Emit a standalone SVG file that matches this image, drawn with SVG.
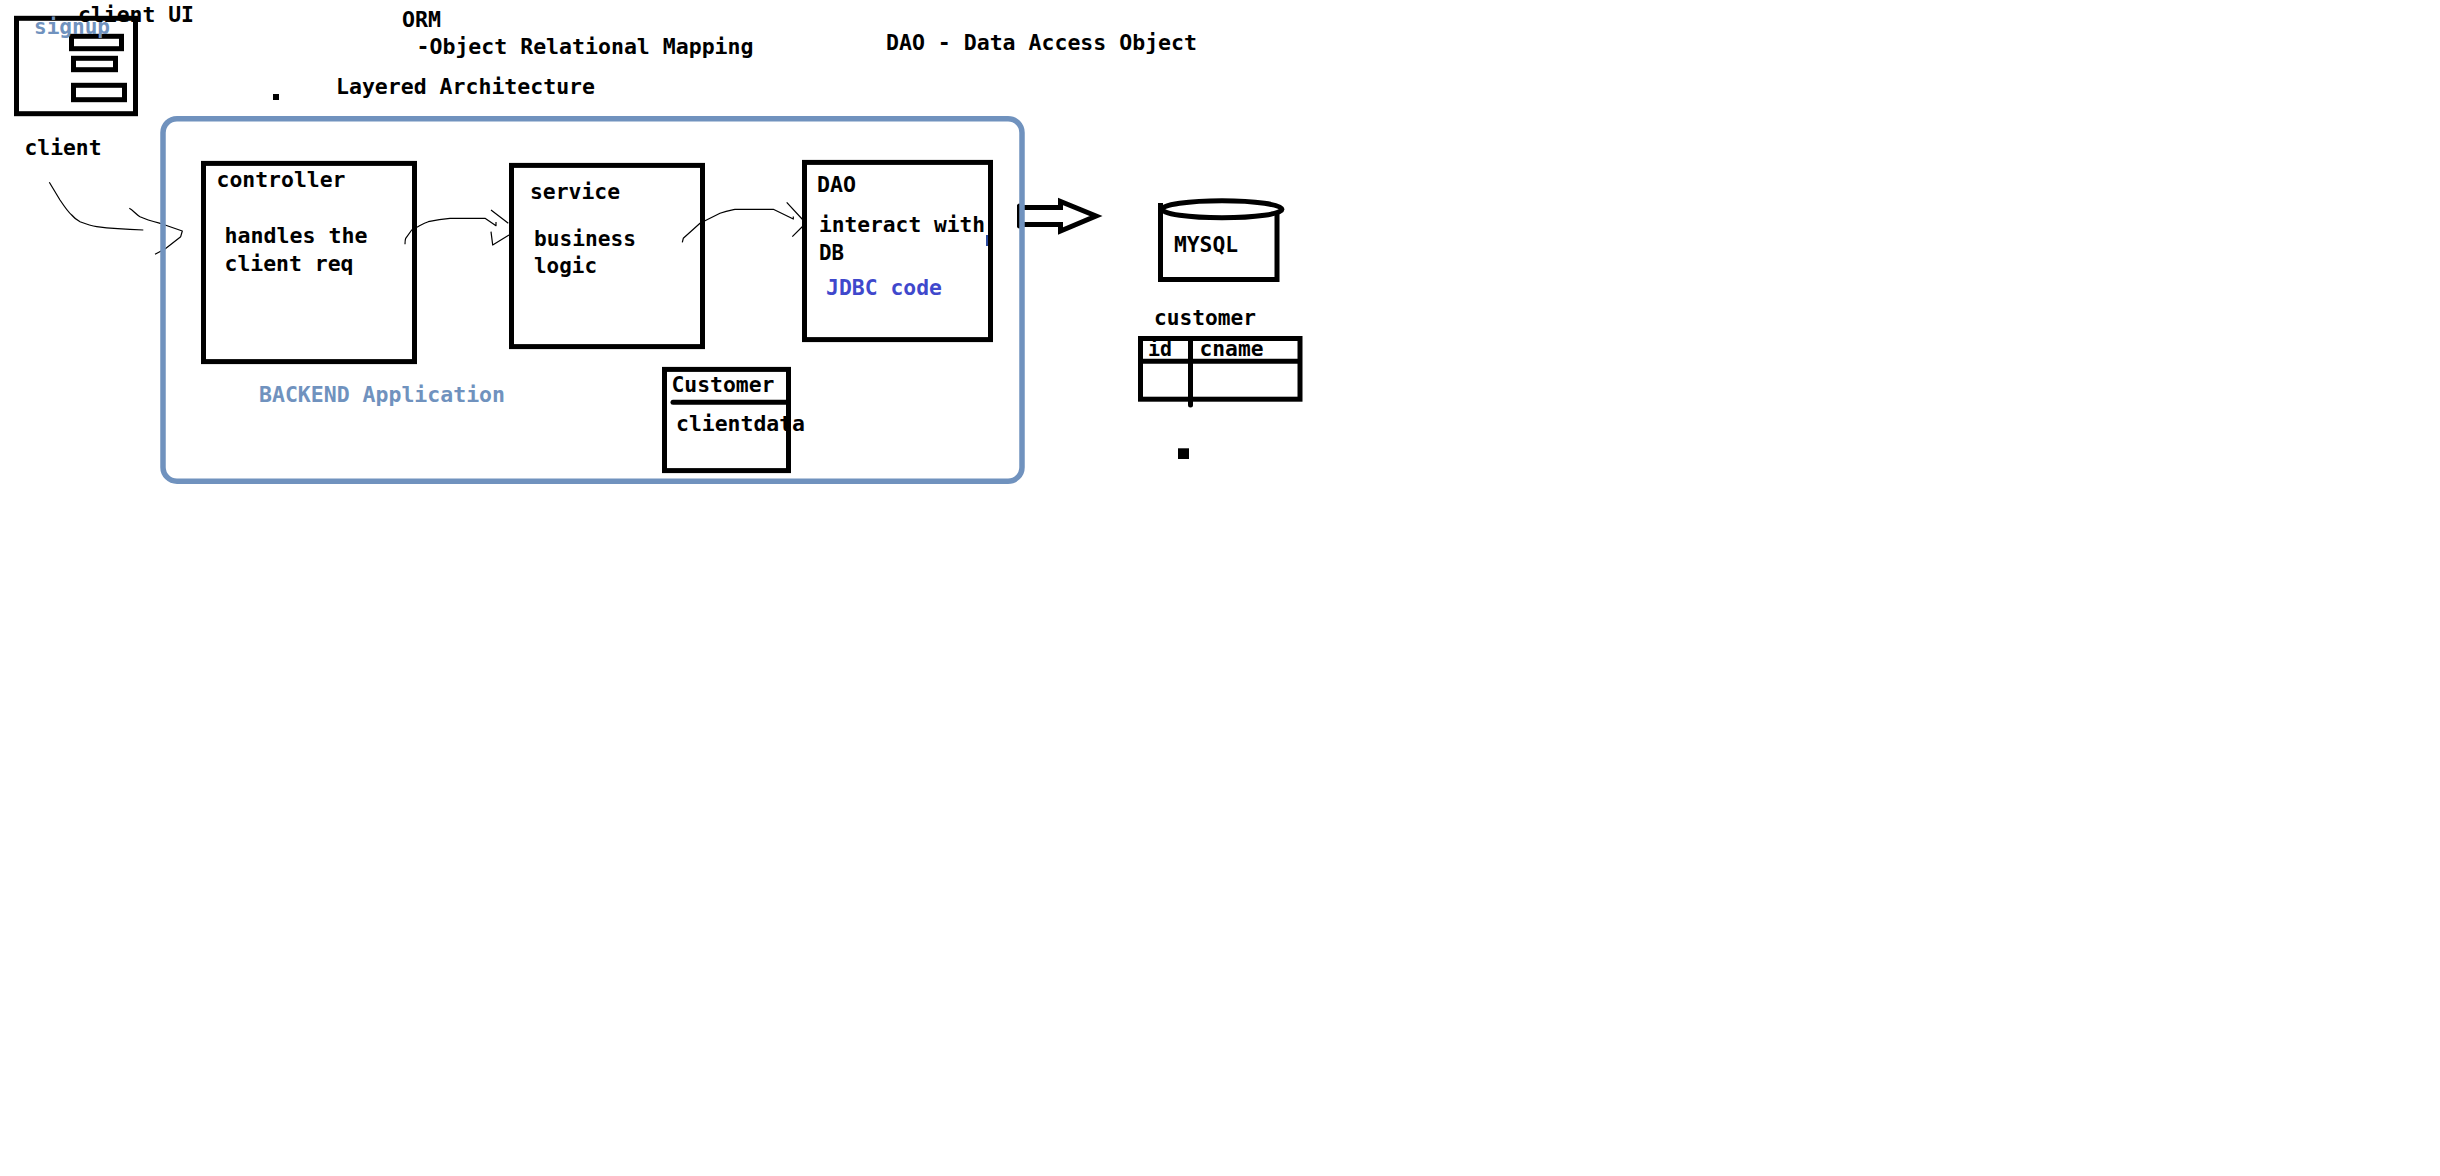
<svg xmlns="http://www.w3.org/2000/svg" width="2440" height="1176" viewBox="0 0 2440 1176">
<style>
text{font-family:"DejaVu Sans Mono","Liberation Mono",monospace;font-weight:700;font-size:21px;fill:#000}
.b{fill:none;stroke:#000;stroke-width:5}
.r{fill:none;stroke:#000;stroke-width:5;stroke-linecap:round}
.t{fill:none;stroke:#000;stroke-width:1.200;stroke-linejoin:round}
.blue{fill:#7092be}
</style>
<rect width="2440" height="1176" fill="#fff"/>
<g id="connectors">
<path class="b" d="M1019.500 207.500H1060.500V201.500L1096 216L1060.500 231V224.500H1019.500Z"/>
<path class="r" d="M1019.500 206V226"/>
<path class="t" d="M49.300 182.300L60 200C64 206 68 212 71.700 215C75 219 78 220.500 80 221.700C86 224 91 225.800 96.700 226.700C110 228.500 125 229.500 143.300 230"/>
<path class="t" d="M129.300 208.300C133 210 136 214.500 140 216.700C147 220 153 221.500 160 223.300L182.300 231L180.700 236.700L165 249L155 254.300"/>
<path class="t" d="M405 244.300C405 241 405 240 405.700 238.300L411.700 230L416.700 227.300C421 225 424 223 428.300 221.700C436 220 442 219 450 218.300H485L496 225.700V222"/>
<path class="t" d="M491 210L508.300 223.300M509 235L492.700 245L491 231.700"/>
<path class="t" d="M682.300 242.300L683.300 238.300L700 223.300L720 213.300C726 211 729 210.500 735 209.300H773.300L793.300 219V216.500"/>
<path class="t" d="M786.700 202.300L803 220M803 226L792.300 236.700"/>
</g>
<g id="backend">
<rect x="163" y="118.700" width="859" height="362.500" rx="14" fill="none" stroke="#7092be" stroke-width="5.500"/>
<text class="blue" x="259" y="402" textLength="246" lengthAdjust="spacingAndGlyphs">BACKEND Application</text>
</g>
<g id="client">
<text x="78" y="21.700" textLength="116" lengthAdjust="spacingAndGlyphs">client UI</text>
<rect class="b" x="16.500" y="18.300" width="119" height="95.400"/>
<rect class="b" x="71.500" y="36.300" width="50" height="12.400"/>
<rect class="b" x="73.500" y="58.300" width="42" height="11.400"/>
<rect class="b" x="73.500" y="85.300" width="51" height="14.400"/>
<text class="blue" x="34" y="34" textLength="76" lengthAdjust="spacingAndGlyphs">signup</text>
<text x="24.500" y="155" textLength="77" lengthAdjust="spacingAndGlyphs">client</text>
</g>
<g id="notes">
<text x="402" y="26.700" textLength="39" lengthAdjust="spacingAndGlyphs">ORM</text>
<text x="416.500" y="54" textLength="337" lengthAdjust="spacingAndGlyphs">-Object Relational Mapping</text>
<text x="336" y="94.300" textLength="259" lengthAdjust="spacingAndGlyphs">Layered Architecture</text>
<text x="886" y="50" textLength="311" lengthAdjust="spacingAndGlyphs">DAO - Data Access Object</text>
<rect x="273" y="94" width="6" height="6"/>
<rect x="1178" y="448.300" width="11" height="10.700"/>
</g>
<g id="controller">
<rect class="b" x="203.500" y="163.400" width="211" height="198.200"/>
<text x="216.500" y="186.700" textLength="129" lengthAdjust="spacingAndGlyphs">controller</text>
<text x="224.500" y="242.700" textLength="143" lengthAdjust="spacingAndGlyphs">handles the</text>
<text x="224.500" y="270.700" textLength="129" lengthAdjust="spacingAndGlyphs">client req</text>
</g>
<g id="service">
<rect class="b" x="511.500" y="165.400" width="191" height="181.200"/>
<text x="530" y="198.700" textLength="90" lengthAdjust="spacingAndGlyphs">service</text>
<text x="534" y="245.700" textLength="102" lengthAdjust="spacingAndGlyphs">business</text>
<text x="534" y="273.300" textLength="63" lengthAdjust="spacingAndGlyphs">logic</text>
</g>
<g id="dao">
<rect class="b" x="804.500" y="162.400" width="186" height="177.200"/>
<text x="817" y="192.300" textLength="39" lengthAdjust="spacingAndGlyphs">DAO</text>
<text x="819" y="231.700" textLength="166" lengthAdjust="spacingAndGlyphs">interact with</text>
<text x="819" y="260" textLength="25" lengthAdjust="spacingAndGlyphs">DB</text>
<text x="826" y="295.300" textLength="116" lengthAdjust="spacingAndGlyphs" style="fill:#3f48cc">JDBC code</text>
<rect x="986" y="235" width="2" height="11" fill="#2a4a9f"/>
</g>
<g id="customer-class">
<rect class="b" x="664.500" y="369.400" width="124" height="101.200"/>
<path class="r" d="M673 402.300H788"/>
<text x="671.400" y="391.700" textLength="103" lengthAdjust="spacingAndGlyphs">Customer</text>
<text x="676" y="430.700" textLength="129" lengthAdjust="spacingAndGlyphs">clientdata</text>
</g>
<g id="mysql">
<path class="b" d="M1160.500 203V279.500H1277V212"/>
<ellipse class="b" cx="1222" cy="209.300" rx="60" ry="8.500"/>
<text x="1174" y="251.700" textLength="64" lengthAdjust="spacingAndGlyphs">MYSQL</text>
</g>
<g id="customer-table">
<text x="1154" y="325" textLength="102" lengthAdjust="spacingAndGlyphs">customer</text>
<rect class="b" x="1140.500" y="338.500" width="159.500" height="60.700"/>
<path class="b" d="M1141 361.300H1299"/>
<path class="r" d="M1190.500 340V405"/>
<text x="1148" y="356" textLength="24" lengthAdjust="spacingAndGlyphs">id</text>
<text x="1199.500" y="356" textLength="64" lengthAdjust="spacingAndGlyphs">cname</text>
</g>
</svg>
